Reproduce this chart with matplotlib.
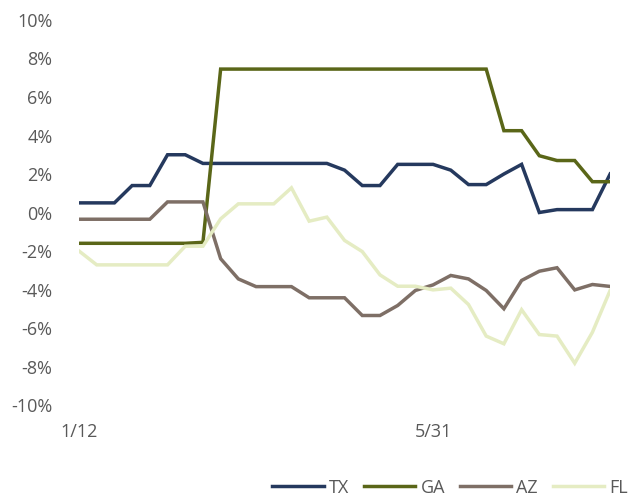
import matplotlib
matplotlib.use("Agg")
import matplotlib.pyplot as plt
from matplotlib.ticker import FuncFormatter

plt.rcParams['font.family'] = ['Open Sans', 'DejaVu Sans']

# weekly readings, 1/12 .. 8/2 (31 points)
weeks = list(range(31))
tick_idx = [0, 20]
tick_labels = ['1/12', '5/31']

tx = [0.5, 0.5, 0.5, 1.4, 1.4, 3.0, 3.0, 2.55, 2.55, 2.55, 2.55, 2.55, 2.55, 2.55, 2.55,
      2.2, 1.4, 1.4, 2.5, 2.5, 2.5, 2.2, 1.45, 1.45, 2.0, 2.5, 0.0, 0.15, 0.15, 0.15, 2.0]
ga = [-1.6, -1.6, -1.6, -1.6, -1.6, -1.6, -1.6, -1.55, 7.45, 7.45, 7.45, 7.45, 7.45, 7.45, 7.45,
      7.45, 7.45, 7.45, 7.45, 7.45, 7.45, 7.45, 7.45, 7.45, 4.25, 4.25, 2.95, 2.7, 2.7, 1.6, 1.6]
az = [-0.35, -0.35, -0.35, -0.35, -0.35, 0.55, 0.55, 0.55, -2.4, -3.45, -3.85, -3.85, -3.85, -4.43, -4.43,
      -4.43, -5.35, -5.35, -4.83, -4.05, -3.76, -3.27, -3.45, -4.05, -5.0, -3.53, -3.05, -2.87, -4.02, -3.74, -3.84]
fl = [-2.0, -2.72, -2.72, -2.72, -2.72, -2.72, -1.75, -1.75, -0.33, 0.45, 0.45, 0.45, 1.28, -0.45, -0.24,
      -1.45, -2.03, -3.24, -3.83, -3.83, -4.02, -3.93, -4.78, -6.42, -6.82, -5.05, -6.34, -6.42, -7.83, -6.22, -4.05]

series = {'TX': tx, 'GA': ga, 'AZ': az, 'FL': fl}
colors = {'TX': '#25395e', 'GA': '#5a6618', 'AZ': '#7e6f66', 'FL': '#e5ecc3'}

fig = plt.figure(figsize=(6.29, 4.95), dpi=100)
ax = fig.add_axes([0.1256, 0.1818, 0.8444, 0.7778])

for name, vals in series.items():
    ax.plot(weeks, vals, color=colors[name], linewidth=2.5, label=name,
            solid_joinstyle='miter')

ax.set_xlim(0, 30)
ax.set_ylim(-10, 10)
ax.set_yticks(range(-10, 11, 2))
ax.yaxis.set_major_formatter(FuncFormatter(lambda v, p: f'{v:.0f}%'))
ax.set_xticks(tick_idx)
ax.set_xticklabels(tick_labels)

for s in ax.spines.values():
    s.set_visible(False)
ax.tick_params(axis='both', length=0, labelsize=13, colors='#595959')
ax.tick_params(axis='y', pad=19)
ax.tick_params(axis='x', pad=13)

fig.legend(loc='center right', bbox_to_anchor=(628 / 629, 1 - 487.7 / 495), ncol=4,
           frameon=False, fontsize=13, labelcolor='#595959', handlelength=2.85,
           handletextpad=0.3, columnspacing=0.8, borderpad=0, borderaxespad=0)

fig.savefig('out.png', dpi=100)
